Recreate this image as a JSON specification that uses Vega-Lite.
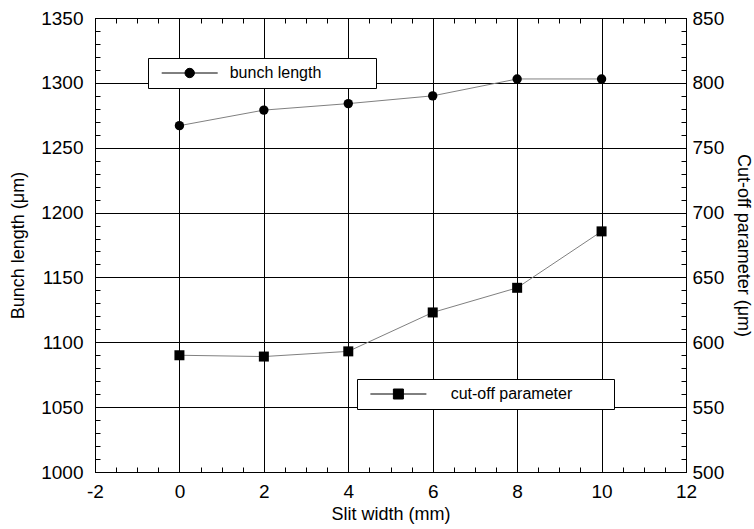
{
  "$schema": "https://vega.github.io/schema/vega-lite/v6.json",
  "autosize": {"type": "none"},
  "padding": {"left": 95, "top": 18, "right": 68, "bottom": 57},
  "width": 591,
  "height": 454,
  "background": "white",
  "config": {
    "font": "Liberation Sans",
    "view": {"stroke": "black", "strokeWidth": 1},
    "axis": {
      "domainColor": "black",
      "tickColor": "black",
      "labelColor": "black",
      "titleColor": "black",
      "titleFontWeight": "normal",
      "labelFont": "Liberation Sans",
      "titleFont": "Liberation Sans",
      "labelOverlap": false,
      "labelFlush": false,
      "labelBound": false,
      "tickSize": -5,
      "gridColor": "black",
      "gridWidth": 1
    },
    "legend": {"labelFont": "Liberation Sans"}
  },
  "datasets": {
    "bunch": [
      {"slit": 0, "bunch": 1267},
      {"slit": 2, "bunch": 1279},
      {"slit": 4, "bunch": 1284},
      {"slit": 6, "bunch": 1290},
      {"slit": 8, "bunch": 1303},
      {"slit": 10, "bunch": 1303}
    ],
    "cutoff": [
      {"slit": 0, "cutoff": 590},
      {"slit": 2, "cutoff": 589},
      {"slit": 4, "cutoff": 593},
      {"slit": 6, "cutoff": 623},
      {"slit": 8, "cutoff": 642},
      {"slit": 10, "cutoff": 685.5}
    ]
  },
  "resolve": {
    "scale": {"y": "independent", "fill": "independent"},
    "axis": {"x": "independent"}
  },
  "layer": [
    {
      "data": {"name": "bunch"},
      "mark": {"type": "line", "color": "#808080", "strokeWidth": 1},
      "encoding": {
        "x": {
          "field": "slit", "type": "quantitative",
          "scale": {"domain": [-2, 12], "nice": false, "zero": false},
          "axis": {
            "orient": "bottom",
            "values": [-2,-1.5,-1,-0.5,0,0.5,1,1.5,2,2.5,3,3.5,4,4.5,5,5.5,6,6.5,7,7.5,8,8.5,9,9.5,10,10.5,11,11.5,12],
            "labelExpr": "datum.value % 2 == 0 ? '' + datum.value : ''",
            "grid": true,
            "gridOpacity": {"condition": {"test": "datum.value % 2 == 0", "value": 1}, "value": 0},
            "labelFontSize": 19,
            "labelPadding": 15,
            "title": "Slit width (mm)",
            "titleFontSize": 18,
            "titlePadding": 4
          }
        },
        "y": {
          "field": "bunch", "type": "quantitative",
          "scale": {"domain": [1000, 1350], "nice": false, "zero": false},
          "axis": {
            "orient": "left",
            "values": [1000,1010,1020,1030,1040,1050,1060,1070,1080,1090,1100,1110,1120,1130,1140,1150,1160,1170,1180,1190,1200,1210,1220,1230,1240,1250,1260,1270,1280,1290,1300,1310,1320,1330,1340,1350],
            "labelExpr": "datum.value % 50 == 0 ? '' + datum.value : ''",
            "grid": true,
            "gridOpacity": {"condition": {"test": "datum.value % 50 == 0", "value": 1}, "value": 0},
            "labelFontSize": 19,
            "labelPadding": 17,
            "title": "Bunch length (μm)",
            "titleFontSize": 18,
            "titlePadding": 13
          }
        }
      }
    },
    {
      "data": {"name": "cutoff"},
      "mark": {"type": "line", "color": "#808080", "strokeWidth": 1},
      "encoding": {
        "x": {
          "field": "slit", "type": "quantitative",
          "scale": {"domain": [-2, 12], "nice": false, "zero": false},
          "axis": {
            "orient": "top",
            "values": [-2,-1.5,-1,-0.5,0,0.5,1,1.5,2,2.5,3,3.5,4,4.5,5,5.5,6,6.5,7,7.5,8,8.5,9,9.5,10,10.5,11,11.5,12],
            "labels": false,
            "grid": false,
            "title": null
          }
        },
        "y": {
          "field": "cutoff", "type": "quantitative",
          "scale": {"domain": [500, 850], "nice": false, "zero": false},
          "axis": {
            "orient": "right",
            "values": [500,510,520,530,540,550,560,570,580,590,600,610,620,630,640,650,660,670,680,690,700,710,720,730,740,750,760,770,780,790,800,810,820,830,840,850],
            "labelExpr": "datum.value % 50 == 0 ? '' + datum.value : ''",
            "grid": false,
            "labelFontSize": 19,
            "labelPadding": 11,
            "title": "Cut-off parameter (μm)",
            "titleFontSize": 18,
            "titlePadding": 10
          }
        }
      }
    },
    {
      "data": {"name": "bunch"},
      "mark": {"type": "circle", "size": 88, "opacity": 1},
      "encoding": {
        "x": {"field": "slit", "type": "quantitative", "scale": {"domain": [-2, 12], "nice": false, "zero": false}, "axis": null},
        "y": {"field": "bunch", "type": "quantitative", "scale": {"domain": [1000, 1350], "nice": false, "zero": false}, "axis": null},
        "fill": {
          "datum": "bunch length",
          "type": "nominal",
          "scale": {"range": ["black"]},
          "legend": {
            "orient": "none",
            "legendX": 53,
            "legendY": 40,
            "title": null,
            "padding": 7,
            "cornerRadius": 0,
            "strokeColor": "black",
            "fillColor": "white",
            "symbolType": "M-5.6,0H5.6M0.94,0A0.94,0.94,0,1,1,-0.94,0A0.94,0.94,0,1,1,0.94,0ZM35.3,0",
            "symbolSize": 100,
            "symbolOffset": 26.7,
            "labelOffset": 32,
            "labelFontSize": 16,
            "labelColor": "black",
            "symbolStrokeColor": "black",
            "symbolStrokeWidth": 1,
            "encode": {
              "symbols": {"update": {"stroke": {"value": "black"}, "strokeWidth": {"value": 1}, "fill": {"value": "black"}, "shape": {"value": "M-5.6,0H5.6M0.94,0A0.94,0.94,0,1,1,-0.94,0A0.94,0.94,0,1,1,0.94,0ZM35.3,0"}}}
            }
          }
        }
      }
    },
    {
      "data": {"name": "cutoff"},
      "mark": {"type": "square", "size": 100, "opacity": 1},
      "encoding": {
        "x": {"field": "slit", "type": "quantitative", "scale": {"domain": [-2, 12], "nice": false, "zero": false}, "axis": null},
        "y": {"field": "cutoff", "type": "quantitative", "scale": {"domain": [500, 850], "nice": false, "zero": false}, "axis": null},
        "fill": {
          "datum": "cut-off parameter",
          "type": "nominal",
          "scale": {"range": ["black"]},
          "legend": {
            "orient": "none",
            "legendX": 262,
            "legendY": 361,
            "title": null,
            "padding": 7,
            "cornerRadius": 0,
            "strokeColor": "black",
            "fillColor": "white",
            "symbolType": "M-5.6,0H5.6M-1,-1H1V1H-1ZM41.3,0",
            "symbolSize": 100,
            "symbolOffset": 26.4,
            "labelOffset": 44.3,
            "labelFontSize": 16,
            "labelColor": "black",
            "symbolStrokeColor": "black",
            "symbolStrokeWidth": 1,
            "encode": {
              "symbols": {"update": {"stroke": {"value": "black"}, "strokeWidth": {"value": 1}, "fill": {"value": "black"}, "shape": {"value": "M-5.6,0H5.6M-1,-1H1V1H-1ZM41.3,0"}}}
            }
          }
        }
      }
    }
  ]
}
